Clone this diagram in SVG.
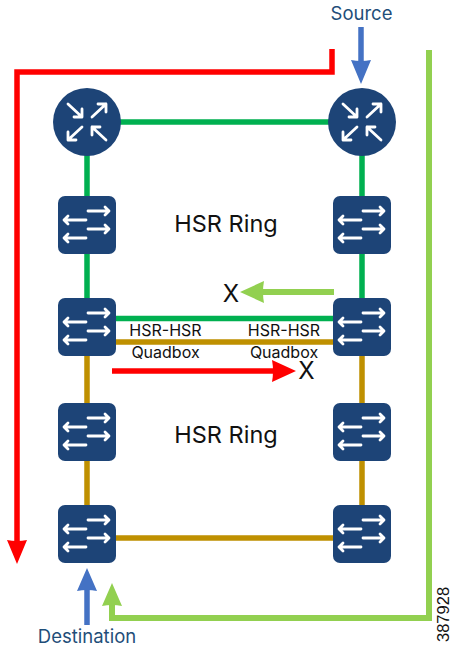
<svg xmlns="http://www.w3.org/2000/svg" width="451" height="647" viewBox="0 0 451 647">
<style>
text{font-family:"Inter","Liberation Sans",sans-serif;text-anchor:middle;fill:#111}
.ring{font-size:23.500px}
.q{font-size:16px}
.x{font-size:24px}
.lbl{font-size:18.500px;fill:#1f4e79}
.c{fill:none;stroke-width:5.500}
.g{stroke:#00b050}
.t{stroke:#bf9000}
.r{stroke:#ff0000}
.lg{stroke:#92d050;stroke-width:6}
.b{stroke:#4472c4}
.ic{fill:none;stroke:#fff;stroke-width:2.800;stroke-linecap:round;stroke-linejoin:round}
.navy{fill:#1d4477}
</style>
<defs>
<g id="sw">
<rect class="navy" x="-29" y="-29" width="58" height="58" rx="7"/>
<path class="ic" d="M1-14H22M18-18l4 4-4 4M1 4H22M18 0l4 4-4 4M-1-5H-23M-19-9l-4 4 4 4M-1 13H-23M-19 9l-4 4 4 4"/>
</g>
<g id="rt">
<circle class="navy" r="34"/>
<path class="ic" d="M-19-18L-5-5M-5-13V-5H-13M5-5L19-18M11-18H19V-10M-5 5L-19 18M-19 10V18H-11M19 18L5 5M5 13V5H13"/>
</g>
</defs>
<g id="connectors">
<path class="c g" d="M87 122H362M87 122V327M362 122V327M87 318.500H362"/>
<path class="c t" d="M87 342H362M87 327V538H362M362 327V538"/>
<path class="c r" d="M332 49V72H17V542"/>
<path fill="#ff0000" d="M17 564L7 540Q17 542 27 540Z"/>
<path class="c b" d="M361 27V65"/>
<path fill="#4472c4" d="M361 84L351 60Q361 62 371 60Z"/>
<path class="c lg" d="M429 50V618H112V603"/>
<path fill="#92d050" d="M112 583L102 606Q112 604 122 606Z"/>
<path class="c b" d="M87 625V588"/>
<path fill="#4472c4" d="M87 568L77 591Q87 589 97 591Z"/>
<path class="c lg" d="M334 292H260"/>
<path fill="#92d050" d="M240 292L264 281Q262 292 264 303Z"/>
<path class="c r" d="M112 371H276"/>
<path fill="#ff0000" d="M296 371L272 360Q274 371 272 382Z"/>
</g>
<g id="router-left"><use href="#rt" x="87" y="122"/></g>
<g id="router-right"><use href="#rt" x="362" y="122"/></g>
<g id="switch-l1"><use href="#sw" x="87" y="225"/></g>
<g id="switch-r1"><use href="#sw" x="362" y="225"/></g>
<g id="quadbox-left"><use href="#sw" x="87" y="327"/></g>
<g id="quadbox-right"><use href="#sw" x="362" y="327"/></g>
<g id="switch-l2"><use href="#sw" x="87" y="432"/></g>
<g id="switch-r2"><use href="#sw" x="362" y="432"/></g>
<g id="switch-l3"><use href="#sw" x="87" y="534"/></g>
<g id="switch-r3"><use href="#sw" x="362" y="534"/></g>
<g id="labels">
<text class="ring" x="226" y="232">HSR Ring</text>
<text class="ring" x="226" y="443">HSR Ring</text>
<text class="q" x="165.500" y="336">HSR-HSR</text>
<text class="q" x="165.500" y="358">Quadbox</text>
<text class="q" x="284" y="336">HSR-HSR</text>
<text class="q" x="284" y="358">Quadbox</text>
<text class="x" x="231" y="302">X</text>
<text class="x" x="306.500" y="379">X</text>
<text class="lbl" x="361.500" y="20">Source</text>
<text class="lbl" x="87" y="643">Destination</text>
<text x="449" y="642" transform="rotate(-90 449 642)" style="font-family:'Liberation Sans',sans-serif;font-size:16.500px;text-anchor:start">387928</text>
</g>
</svg>
